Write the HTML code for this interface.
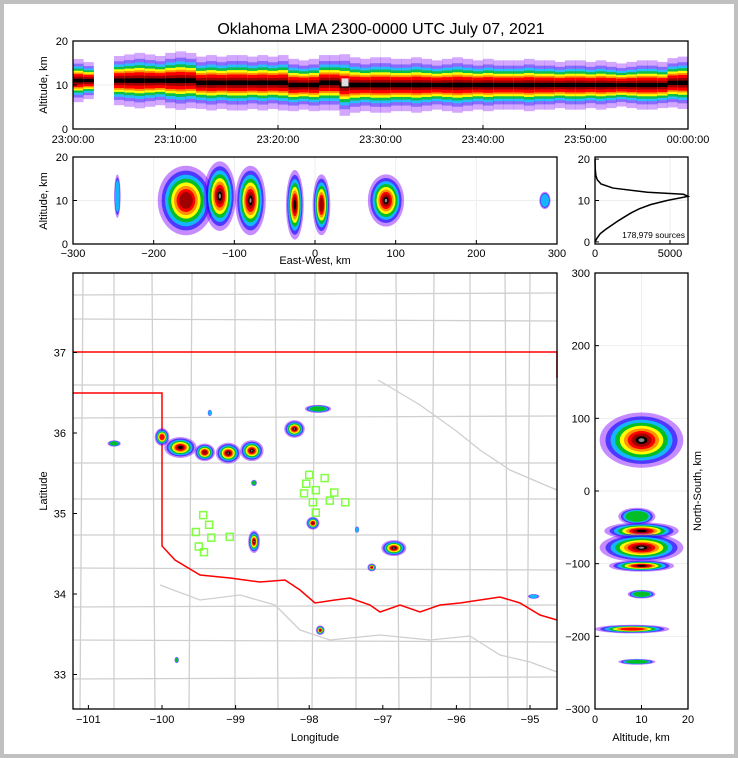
<!DOCTYPE html>
<html><head><meta charset="utf-8">
<style>
html,body{margin:0;padding:0;background:#c0c0c0;}
#wrap{position:absolute;left:4px;top:4px;width:730px;height:750px;background:#fff;}
svg{position:absolute;left:0;top:0;font-family:"Liberation Sans",sans-serif;}
</style></head>
<body>
<div id="wrap"></div>
<svg id="fig" width="738" height="758" viewBox="0 0 738 758"></svg>
<script>
// ---------- DATA ----------
const timeMinutes=[0,1,2,3,4,5,6,7,8,9,10,11,12,13,14,15,16,17,18,19,20,21,22,23,24,25,26,27,28,29,30,31,32,33,34,35,36,37,38,39,40,41,42,43,44,45,46,47,48,49,50,51,52,53,54,55,56,57,58,59];
const timeDensity=[0.7,0.6,0,0,0.8,0.85,0.9,0.85,0.8,0.9,0.95,0.9,0.85,0.9,0.85,0.9,0.9,0.85,0.9,0.85,0.9,0.85,0.8,0.85,0.9,0.9,1,0.9,0.85,0.9,0.9,0.85,0.85,0.9,0.85,0.8,0.85,0.9,0.85,0.8,0.85,0.8,0.8,0.8,0.85,0.8,0.8,0.75,0.8,0.8,0.75,0.8,0.75,0.7,0.75,0.8,0.8,0.75,0.8,0.85];
const timeAlt=[11,11,11,11,11,11,11,11,11,11,11,11,10.5,10.5,10.5,10.5,10.5,10.5,10.5,10.5,10.5,10,10,10,10.5,10.5,10,10,10,10,10,10,10,10,10,10,10,10,10,10,10,10,10,10,10,10,10,10,10,10,10,10,10,10,10,10,10,10,10.5,10.5];
const timeTicks=["23:00:00","23:10:00","23:20:00","23:30:00","23:40:00","23:50:00","00:00:00"];

const ewCenter=[-245,-160,-118,-80,-25,8,88,285];
const ewWidth=[8,70,40,38,22,22,45,14];
const ewAlt=[11,10,11,10,9,9,10,10];
const ewHeight=[5,8,8,8,8,7,6,2];
const ewLevel=[2,7,9,9,8,7,9,2];

const histAlt=[0,1,2,3,4,5,6,7,8,9,10,11,11.5,12,13,14,15,16,17,18,19,20];
const histCount=[0,150,350,700,1100,1500,1950,2400,2950,3700,4800,6200,5900,3500,1200,400,150,60,30,15,8,5];

const cellLon=[-100.0,-99.75,-99.42,-99.1,-98.78,-98.2,-97.88,-98.75,-97.95,-96.85,-97.15,-97.85,-100.65,-99.8,-98.75,-94.95,-99.35,-97.35];
const cellLat=[35.95,35.82,35.76,35.75,35.78,36.05,36.3,34.65,34.88,34.57,34.33,33.55,35.87,33.18,35.38,33.97,36.25,34.8];
const cellSizeLon=[0.1,0.22,0.14,0.17,0.16,0.14,0.18,0.08,0.09,0.17,0.06,0.06,0.09,0.03,0.04,0.08,0.03,0.03];
const cellSizeLat=[0.11,0.13,0.11,0.13,0.13,0.11,0.05,0.14,0.08,0.1,0.05,0.06,0.04,0.04,0.04,0.03,0.04,0.04];
const cellLevel=[6,8,7,9,9,9,3,9,7,9,7,7,3,3,3,2,2,2];

const stnLon=[-98.00,-97.79,-98.04,-97.91,-97.66,-98.07,-97.95,-97.72,-97.51,-97.91,-99.44,-99.36,-99.54,-99.33,-99.08,-99.50,-99.43];
const stnLat=[35.48,35.44,35.37,35.29,35.26,35.25,35.14,35.16,35.14,35.01,34.98,34.86,34.77,34.70,34.71,34.59,34.52];

const nsCenter=[70,-35,-55,-78,-103,-142,-190,-235];
const nsAlt=[10,9,10,10,10,10,8,9];
const nsAltWidth=[9,4,8,9,7,3,8,4];
const nsHeight=[38,12,12,20,8,6,6,4];
const nsLevel=[9,3,8,9,8,3,6,3];

const lonTicks=[-101,-100,-99,-98,-97,-96,-95];
const latTicks=[33,34,35,36,37];

// ---------- HELPERS ----------
const NS='http://www.w3.org/2000/svg';
const svg=document.getElementById('fig');
function el(tag,attrs,parent){const e=document.createElementNS(NS,tag);for(const k in attrs)e.setAttribute(k,attrs[k]);(parent||svg).appendChild(e);return e;}
function txt(x,y,s,size,anchor,parent,rot){const t=el('text',{x:x,y:y,'font-size':size,'text-anchor':anchor||'middle',fill:'#000'},parent);if(rot)t.setAttribute('transform','rotate(-90 '+x+' '+y+')');t.textContent=s;return t;}
const palette=['#8000ff','#0000ff','#00e0ff','#00c000','#ffff00','#ff9000','#ff0000','#a00000','#000000','#888888'];
const opac=[0.45,0.6,0.75,0.85,1,1,1,1,1,1];
const fracs=[1,0.86,0.74,0.63,0.52,0.42,0.33,0.24,0.14,0.07];
function cell(g,cx,cy,rx,ry,level){
  for(let i=0;i<=level&&i<palette.length;i++){
    const e=el('ellipse',{cx:cx,cy:cy,rx:Math.max(rx*fracs[i],0.8),ry:Math.max(ry*fracs[i],0.8),fill:palette[i],'fill-opacity':opac[i]},g);
    
    
  }
}

// ---------- TITLE ----------
const title=txt(381,34,'Oklahoma LMA 2300-0000 UTC July 07, 2021',16);


// ---------- TOP PANEL ----------
const T={x0:73,x1:688,y0:129,y1:41};
const tx=m=>T.x0+m*(T.x1-T.x0)/60, ty=a=>T.y0-a*(T.y0-T.y1)/20;
const gTop=el('g',{});
for(let i=0;i<7;i++){el('line',{x1:tx(i*10),x2:tx(i*10),y1:T.y1,y2:T.y0,stroke:'#eee'},gTop);}
el('line',{x1:T.x0,x2:T.x1,y1:ty(10),y2:ty(10),stroke:'#eee'},gTop);
const bandW=[7,5.5,4.6,3.9,3.2,2.6,2.1,1.3,0.6];
timeMinutes.forEach((m,i)=>{
  const d=timeDensity[i]; if(d<=0) return;
  for(let k=0;k<bandW.length;k++){
    const h=bandW[k]*d;
    const r=el('rect',{x:tx(m),y:ty(timeAlt[i]+h),width:tx(1)-tx(0)+0.3,height:ty(timeAlt[i]-h)-ty(timeAlt[i]+h),fill:palette[k],'fill-opacity':k<2?0.35:(k<4?0.7:1)},gTop);
    
    
  }
  if(d>=1){const r=el('rect',{x:tx(m)+2,y:ty(11.5),width:7,height:8,fill:'#ddd'},gTop);}
});
el('rect',{x:T.x0,y:T.y1,width:T.x1-T.x0,height:T.y0-T.y1,fill:'none',stroke:'#000','stroke-width':1.3},gTop);
[0,10,20].forEach(v=>{el('line',{x1:T.x0,x2:T.x0+4,y1:ty(v),y2:ty(v),stroke:'#000'},gTop);txt(T.x0-5,ty(v)+4,String(v),11,'end',gTop);});
timeTicks.forEach((s,i)=>{el('line',{x1:tx(i*10),x2:tx(i*10),y1:T.y0,y2:T.y0-4,stroke:'#000'},gTop);txt(tx(i*10),T.y0+14,s,11,'middle',gTop);});
txt(47,85,'Altitude, km',11,'middle',gTop,true);

// ---------- MIDDLE PANEL ----------
const M={x0:73,x1:557,y0:244,y1:157};
const mx=v=>M.x0+(v+300)*(M.x1-M.x0)/600, my=a=>M.y0-a*(M.y0-M.y1)/20;
const gMid=el('g',{});
[-200,-100,0,100,200].forEach(v=>el('line',{x1:mx(v),x2:mx(v),y1:M.y1,y2:M.y0,stroke:'#eee'},gMid));
el('line',{x1:M.x0,x2:M.x1,y1:my(10),y2:my(10),stroke:'#eee'},gMid);
ewCenter.forEach((c,i)=>{
  const cx=mx(c),cy=my(ewAlt[i]);
  cell(gMid,cx,cy,mx(c+ewWidth[i]/2)-cx,my(ewAlt[i]-ewHeight[i])-cy,ewLevel[i]);
});
el('rect',{x:M.x0,y:M.y1,width:M.x1-M.x0,height:M.y0-M.y1,fill:'none',stroke:'#000','stroke-width':1.3},gMid);
[0,10,20].forEach(v=>{el('line',{x1:M.x0,x2:M.x0+4,y1:my(v),y2:my(v),stroke:'#000'},gMid);txt(M.x0-5,my(v)+4,String(v),11,'end',gMid);});
[-300,-200,-100,0,100,200,300].forEach(v=>{el('line',{x1:mx(v),x2:mx(v),y1:M.y0,y2:M.y0-4,stroke:'#000'},gMid);txt(mx(v),M.y0+13,v<0?'\u2212'+(-v):String(v),11,'middle',gMid);});
txt(315,264,'East-West, km',11,'middle',gMid);
txt(47,201,'Altitude, km',11,'middle',gMid,true);

// ---------- HISTOGRAM ----------
const H={x0:595,x1:688,y0:244,y1:157};
const hx=v=>H.x0+v*(H.x1-H.x0)/6200, hy=a=>H.y0-(a+0.5)*(H.y0-H.y1)/21;
const gH=el('g',{});
el('line',{x1:H.x0,x2:H.x1,y1:hy(10),y2:hy(10),stroke:'#eee'},gH);
el('line',{x1:hx(5000),x2:hx(5000),y1:H.y1,y2:H.y0,stroke:'#eee'},gH);
const hp=el('polyline',{points:histAlt.map((a,i)=>hx(histCount[i])+','+hy(a)).join(' '),fill:'none',stroke:'#000','stroke-width':1.5},gH);

el('rect',{x:H.x0,y:H.y1,width:H.x1-H.x0,height:H.y0-H.y1,fill:'none',stroke:'#000','stroke-width':1.3},gH);
[0,10,20].forEach(v=>{el('line',{x1:H.x0,x2:H.x0+4,y1:hy(v),y2:hy(v),stroke:'#000'},gH);txt(H.x0-5,hy(v)+4,String(v),11,'end',gH);});
[0,5000].forEach(v=>{el('line',{x1:hx(v),x2:hx(v),y1:H.y0,y2:H.y0-4,stroke:'#000'},gH);txt(hx(v),H.y0+13,String(v),11,'middle',gH);});
txt(685,238,'178,979 sources',8.5,'end',gH);

// ---------- MAP ----------
const P={x0:73,x1:557,y0:709,y1:273};
const lx=lon=>162+(lon+100)*73.6, ly=lat=>433-(lat-36)*80.5;
const gMap=el('g',{});
const clip=el('clipPath',{id:'mapclip'},svg);el('rect',{x:P.x0,y:P.y1,width:P.x1-P.x0,height:P.y0-P.y1},clip);
const gC=el('g',{'clip-path':'url(#mapclip)',},gMap);
const hLines=[293,321,385,416,463,499,535,570,605,642,677];
const vLines=[83,114,152,192,235,275,315,356,396,434,470,505,530];
hLines.forEach(y=>el('line',{x1:P.x0,x2:P.x1,y1:y+((y%3)-1)*2,y2:y,stroke:'#cfcfcf','stroke-width':1.3},gC));
vLines.forEach((x,i)=>el('line',{x1:x,x2:x+((i%3)-1)*3,y1:P.y1,y2:P.y0,stroke:'#cfcfcf','stroke-width':1.3},gC));
el('polyline',{points:'378,380 395,390 420,405 455,430 480,450 510,470 545,485 557,490',fill:'none',stroke:'#cfcfcf','stroke-width':1.3},gC);
el('polyline',{points:'160,585 200,600 240,595 275,605 300,630 330,640 380,635 430,640 470,636 500,655 530,662 557,672',fill:'none',stroke:'#cfcfcf','stroke-width':1.3},gC);
const border=el('polyline',{points:'73,352 557,352 557,378',fill:'none',stroke:'#ff0000','stroke-width':1.5},gMap);

const border2=el('polyline',{points:'73,393 162,393 162,546 175,560 200,575 230,578 260,582 285,580 300,590 315,603 335,600 350,598 370,605 380,612 400,605 420,612 440,605 460,603 480,600 500,597 520,603 540,615 557,620',fill:'none',stroke:'#ff0000','stroke-width':1.5},gMap);

cellLon.forEach((lon,i)=>{
  const cx=lx(lon),cy=ly(cellLat[i]);
  cell(gMap,cx,cy,lx(lon+cellSizeLon[i])-cx,ly(cellLat[i]-cellSizeLat[i])-cy,cellLevel[i]);
});
stnLon.forEach((lon,i)=>{
  const r=el('rect',{x:lx(lon)-3.5,y:ly(stnLat[i])-3.5,width:7,height:7,fill:'none',stroke:'#80ff40','stroke-width':1.5},gMap);
  
});
el('rect',{x:P.x0,y:P.y1,width:P.x1-P.x0,height:P.y0-P.y1,fill:'none',stroke:'#000','stroke-width':1.3},gMap);
lonTicks.forEach(v=>{el('line',{x1:lx(v),x2:lx(v),y1:P.y0,y2:P.y0-4,stroke:'#000'},gMap);txt(lx(v),P.y0+14,'\u2212'+(-v),11,'middle',gMap);});
latTicks.forEach(v=>{el('line',{x1:P.x0,x2:P.x0+4,y1:ly(v),y2:ly(v),stroke:'#000'},gMap);txt(P.x0-7,ly(v)+4,String(v),11,'end',gMap);});
txt(315,741,'Longitude',11,'middle',gMap);
txt(47,491,'Latitude',11,'middle',gMap,true);

// ---------- RIGHT PANEL ----------
const R={x0:595,x1:688,y0:709,y1:273};
const rx=a=>R.x0+a*(R.x1-R.x0)/20, ry=v=>491-v*(709-273)/600;
const gR=el('g',{});
el('line',{x1:rx(10),x2:rx(10),y1:R.y1,y2:R.y0,stroke:'#eee'},gR);
[-200,-100,0,100,200].forEach(v=>el('line',{x1:R.x0,x2:R.x1,y1:ry(v),y2:ry(v),stroke:'#eee'},gR));
nsCenter.forEach((c,i)=>{
  const cx=rx(nsAlt[i]),cy=ry(c);
  cell(gR,cx,cy,rx(nsAlt[i]+nsAltWidth[i])-cx,ry(c-nsHeight[i])-cy,nsLevel[i]);
});
el('rect',{x:R.x0,y:R.y1,width:R.x1-R.x0,height:R.y0-R.y1,fill:'none',stroke:'#000','stroke-width':1.3},gR);
[-300,-200,-100,0,100,200,300].forEach(v=>{el('line',{x1:R.x0,x2:R.x0+4,y1:ry(v),y2:ry(v),stroke:'#000'},gR);txt(R.x0-5,ry(v)+4,v<0?'\u2212'+(-v):String(v),11,'end',gR);});
[0,10,20].forEach(v=>{el('line',{x1:rx(v),x2:rx(v),y1:R.y0,y2:R.y0-4,stroke:'#000'},gR);txt(rx(v),R.y0+14,String(v),11,'middle',gR);});
txt(641,741,'Altitude, km',11,'middle',gR);
txt(701,491,'North-South, km',11,'middle',gR,true);
</script>
</body></html>
